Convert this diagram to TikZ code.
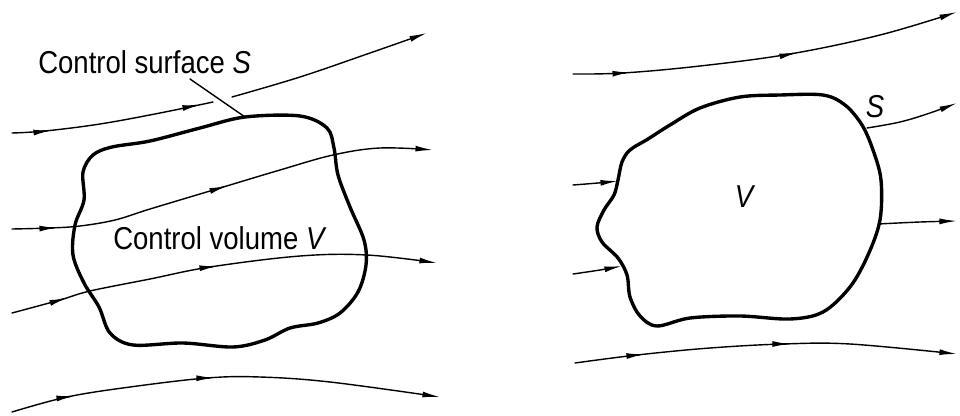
\documentclass[tikz,border=0pt]{standalone}
\usepackage{fontspec}
\setmainfont{Liberation Sans}[FakeStretch=0.87]
\usetikzlibrary{arrows.meta}

\begin{document}
\begin{tikzpicture}[
        x=0.025cm, y=-0.025cm,
        line cap=round,
        line join=round,
        every node/.style={font=\fontsize{22.5}{26}\selectfont, inner sep=0pt},
        stream/.style={line width=1pt},
        endtip/.style={-{Latex[length=12.5pt,width=4.2pt]}},
        surface/.style={line width=2.4pt}
    ]
    \useasboundingbox (0,0) rectangle (960,415);
    % Left: control volume with streamlines
    \draw[surface] plot[smooth cycle, tension=0.55] coordinates {
        (245,117) (300,116) (327,128) (334,148) (338,175) (350,207) (364,240)
        (366,265) (358,292) (340,313) (318,323) (290,328) (265,340) (233,347)
        (183,343) (133,345) (110,333) (99,307) (84,283) (73,255) (75,225)
        (84,200) (83,172) (93,155) (112,147) (150,141) (200,128)};
    % Streamlines (left)
    \draw[stream] plot[smooth, tension=0.6] coordinates {
        (12,133) (45,131) (100,124) (160,113) (213,102)};
    \draw[stream, endtip] plot[smooth, tension=0.6] coordinates {
        (232,97) (300,77) (370,53) (427,33)};
    \draw[stream, endtip] plot[smooth, tension=0.6] coordinates {
        (12,229) (50,228) (80,226) (115,220) (150,209) (220,188) (280,170)
        (333,155) (380,148) (433,150)};
    \draw[stream, endtip] plot[smooth, tension=0.6] coordinates {
        (12,313) (60,300) (90,291) (150,279) (210,267) (300,256) (367,255) (437,263)};
    \draw[stream, endtip] plot[smooth, tension=0.6] coordinates {
        (12,412) (67,397) (130,387) (207,378) (260,377) (330,382) (440,397)};
    % Labels (left)
    \node[anchor=base west] (surfacelabel) at (38,73) {Control surface \textit{S}};
    \node[anchor=base west] (volumelabel) at (113,249) {Control volume \textit{V}};
    \coordinate (leadA) at (190,79);
    \coordinate (leadB) at (245,117);
    \draw[stream] (leadA) -- (leadB);
    % Right: arbitrary volume V bounded by S
    \draw[surface] plot[smooth cycle, tension=0.55] coordinates {
        (823,95) (845,105) (862,125) (873,150) (881,180) (880,220) (868,255)
        (850,287) (823,312) (790,319) (740,316) (690,318) (657,326) (640,316)
        (630,297) (627,275) (618,258) (602,242) (597,227) (604,210) (614,195)
        (618,180) (622,162) (630,150) (648,139) (670,125) (700,108) (740,97) (780,95)};
    % Streamlines (right)
    \draw[stream, endtip] plot[smooth, tension=0.6] coordinates {
        (573,74) (623,73) (700,66) (790,54) (880,35) (957,12)};
    \draw[stream, endtip] plot[smooth, tension=0.6] coordinates {
        (867,128) (900,122) (930,113) (957,103)};
    \draw[stream, endtip] plot[smooth, tension=0.6] coordinates {
        (573,185) (598,183) (618,181)};
    \draw[stream, endtip] plot[smooth, tension=0.6] coordinates {
        (878,224) (920,222) (957,221)};
    \draw[stream, endtip] plot[smooth, tension=0.6] coordinates {
        (573,274) (600,270) (622,266)};
    \draw[stream, endtip] plot[smooth, tension=0.6] coordinates {
        (575,363) (637,355) (710,348) (783,344) (850,344) (957,354)};
    % Arrowheads along the streamlines
    \foreach \bx/\by/\tx/\ty in {47/130.9/51/130.4, 196/105.4/200/104.6,
        53/227.9/57/227.7, 223/187.1/227/185.9,
        63/299.1/67/297.9, 213/266.6/217/266.1,
        70/396.5/74/395.9, 210/377.9/214/377.8,
        626/72.7/630/72.4, 793/53.4/797/52.5,
        640/354.7/644/354.3, 786/344/790/344}{
        \draw[stream, endtip] (\bx,\by) -- (\tx,\ty);
    }
    % Labels (right)
    \node (slabel) at (875,107) {\textit{S}};
    \node (vlabel) at (745,197) {\textit{V}};
\end{tikzpicture}
\end{document}
